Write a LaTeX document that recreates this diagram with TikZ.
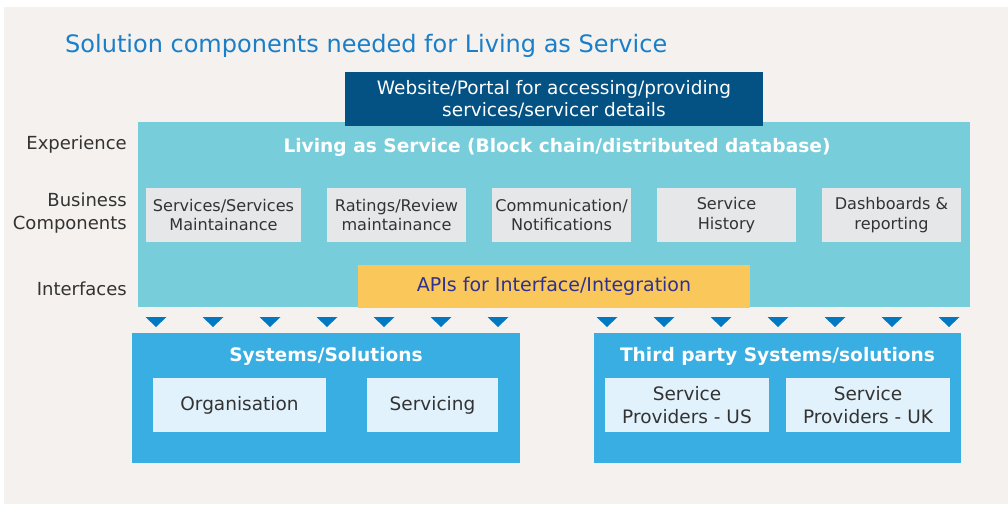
\documentclass[tikz,border=0pt]{standalone}
\usepackage{fontspec}
\setmainfont{DejaVu Sans}
\usepackage{xcolor}
\definecolor{paper}{HTML}{F4F1EE}
\definecolor{headblue}{HTML}{1A7FC8}
\definecolor{portal}{HTML}{035283}
\definecolor{ledger}{HTML}{78CDDA}
\definecolor{module}{HTML}{E6E7E9}
\definecolor{apiyellow}{HTML}{FAC85A}
\definecolor{apitext}{HTML}{2E3192}
\definecolor{feed}{HTML}{0079C2}
\definecolor{system}{HTML}{38AEE3}
\definecolor{part}{HTML}{E1F2FC}
\definecolor{darkgray}{HTML}{333333}
\usepackage{tikz}
\usetikzlibrary{positioning}

\begin{document}
\begin{tikzpicture}[x=1pt, y=-1pt, node distance = 26pt,
    block/.style 2 args={rectangle, inner sep=0pt, outer sep=0pt, anchor=north west,
        minimum width=#1pt, minimum height=#2pt},
    comp/.style={rectangle, inner sep=0pt, outer sep=0pt, fill=module, text=darkgray,
        align=center, minimum height=54pt, font=\fontsize{16.1}{19.5}\selectfont},
    part/.style={rectangle, inner sep=0pt, outer sep=0pt, fill=part, text=darkgray,
        align=center, minimum height=54pt, font=\fontsize{18.5}{23}\selectfont},
    layer/.style={anchor=east, inner sep=0pt, align=right, text=darkgray,
        font=\fontsize{18}{23}\selectfont},
    heading/.style={text=white, font=\bfseries\fontsize{18.6}{22}\selectfont}]
    	% page and title
    	\useasboundingbox (0,0) rectangle (1008,504);
    	\fill[white] (0,0) rectangle (1008,504);
    	\fill[paper] (4,7) rectangle (1008,504);
    	\node (T) [anchor=base west, inner sep=0pt, text=headblue, font=\fontsize{24}{28}\selectfont] at (65,52)
    		{Solution components needed for Living as Service};
    	% layer names on the left
    	\node (Exp) [layer] at (127,145) {Experience};
    	\node (Bus) [layer] at (127,213) {Business\\Components};
    	\node (Int) [layer] at (127,289) {Interfaces};
    	% main platform
    	\node (L) [block={832}{185}, fill=ledger] at (138,122) {};
    	\node (W) [block={418}{54}, fill=portal, text=white, align=center,
    		font=\fontsize{18.5}{22}\selectfont] at (345,72)
    		{Website/Portal for accessing/providing\\services/servicer details};
    	\node (LT) [heading] at (557,147) {Living as Service (Block chain/distributed database)};
    	\node (S1) [comp, minimum width=155pt, anchor=north west] at (146,188) {Services/Services\\Maintainance};
    	\node (S2) [comp, minimum width=139pt, right=of S1] {Ratings/Review\\maintainance};
    	\node (S3) [comp, minimum width=139pt, right=of S2] {Communication/\\Notifications};
    	\node (S4) [comp, minimum width=139pt, right=of S3] {Service\\History};
    	\node (S5) [comp, minimum width=139pt, right=of S4] {Dashboards \&\\reporting};
    	\node (API) [block={392}{43}, fill=apiyellow, text=apitext,
    		font=\fontsize{19}{22}\selectfont] at (358,265) {APIs for Interface/Integration};
    	% feed markers
    	\foreach \x in {156,213,...,498,607,664,...,949}
    		\fill[feed] (\x-10.5,317) -- (\x+10.5,317) -- (\x,327) -- cycle;
    	% own systems
    	\node (Sys) [block={388}{130}, fill=system] at (132,333) {};
    	\node (SysT) [heading] at (326,356) {Systems/Solutions};
    	\node (Org) [part, minimum width=173pt, anchor=north west] at (153,378) {Organisation};
    	\node (Svc) [part, minimum width=131pt, right=41pt of Org] {Servicing};
    	% third party systems
    	\node (Tp) [block={367}{130}, fill=system] at (594,333) {};
    	\node (TpT) [heading] at (777.5,356) {Third party Systems/solutions};
    	\node (US) [part, minimum width=164pt, anchor=north west] at (605,378) {Service\\Providers - US};
    	\node (UK) [part, minimum width=164pt, right=17pt of US] {Service\\Providers - UK};
\end{tikzpicture}
\end{document}
